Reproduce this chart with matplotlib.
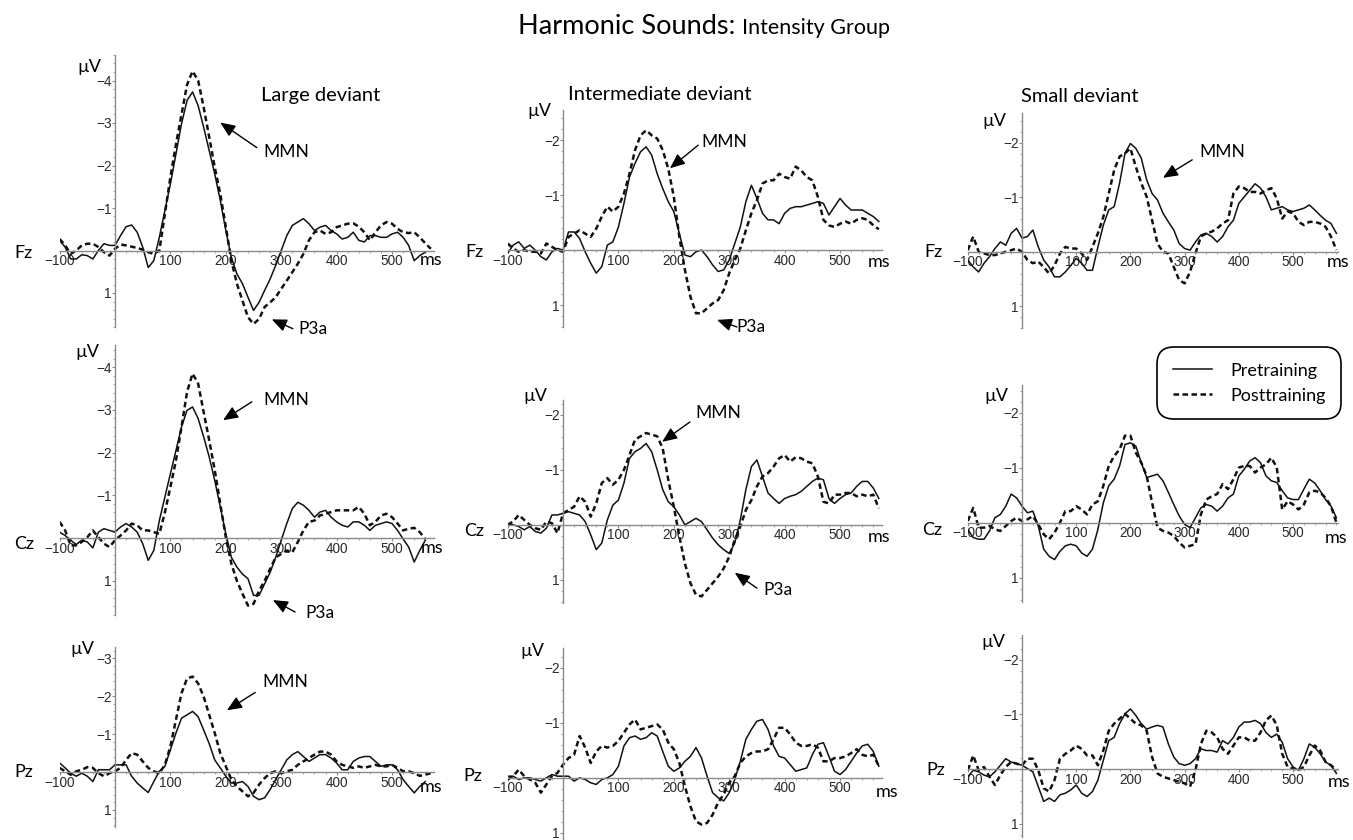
import matplotlib
matplotlib.use("Agg")
import matplotlib.pyplot as plt
from matplotlib.ticker import FixedLocator, MultipleLocator

W, H = 1353, 840
fig = plt.figure(figsize=(W / 100, H / 100), dpi=100)

LABEL_FONT = ["Lato", "DejaVu Sans"]
TICK_FONT = ["Liberation Sans", "DejaVu Sans"]

# time axis (ms), one sample every 10 ms
times = list(range(-100, 590, 10))

# ---- Fz ----
fz_large_pre = [-0.24, -0.08, 0.20, 0.20, 0.10, 0.12, 0.20, 0.00, -0.16, -0.12,
                -0.12, -0.35, -0.56, -0.60, -0.43, -0.08, 0.40, 0.24, -0.31, -0.94,
                -1.57, -2.27, -2.98, -3.53, -3.73, -3.41, -2.90, -2.35, -1.80, -1.18,
                -0.47, 0.16, 0.55, 0.78, 1.10, 1.41, 1.22, 0.94, 0.67, 0.35,
                0.00, -0.35, -0.59, -0.67, -0.75, -0.63, -0.47, -0.55, -0.59, -0.47,
                -0.39, -0.27, -0.31, -0.43, -0.24, -0.20, -0.35, -0.35, -0.31, -0.31,
                -0.39, -0.43, -0.31, -0.12, 0.24, 0.12, 0.04]
fz_large_post = [-0.27, -0.12, 0.08, 0.00, -0.12, -0.16, -0.16, -0.08, 0.04, 0.12,
                 -0.04, -0.14, -0.12, -0.09, -0.06, -0.02, 0.04, 0.08, 0.00, -0.86,
                 -1.73, -2.50, -3.20, -3.90, -4.22, -4.00, -3.37, -2.67, -1.96, -1.33,
                 -0.55, 0.24, 0.78, 1.18, 1.57, 1.73, 1.61, 1.33, 1.22, 1.10,
                 0.90, 0.71, 0.51, 0.31, 0.08, -0.24, -0.43, -0.47, -0.39, -0.43,
                 -0.55, -0.59, -0.63, -0.64, -0.56, -0.43, -0.24, -0.43, -0.59, -0.67,
                 -0.63, -0.51, -0.43, -0.41, -0.43, -0.31, -0.17, -0.04]
fz_mid_pre = [0.06, -0.09, -0.15, -0.03, -0.09, 0.00, 0.12, 0.18, 0.03, -0.03,
              0.00, -0.33, -0.33, -0.21, 0.03, 0.24, 0.42, 0.30, -0.09, -0.15,
              -0.42, -0.85, -1.33, -1.58, -1.79, -1.88, -1.73, -1.39, -1.12, -0.88,
              -0.70, -0.30, 0.09, 0.12, 0.03, 0.00, 0.12, 0.27, 0.39, 0.36,
              0.18, -0.12, -0.42, -0.88, -1.18, -0.94, -0.67, -0.55, -0.55, -0.48,
              -0.67, -0.76, -0.79, -0.79, -0.82, -0.85, -0.88, -0.85, -0.64, -0.79,
              -0.94, -0.82, -0.73, -0.73, -0.73, -0.67, -0.61, -0.52]
fz_mid_post = [-0.12, -0.03, 0.03, 0.00, 0.03, 0.03, 0.06, -0.12, -0.06, 0.00,
               0.03, -0.24, -0.30, -0.36, -0.30, -0.24, -0.39, -0.61, -0.79, -0.70,
               -0.79, -1.03, -1.39, -1.82, -2.09, -2.18, -2.09, -2.03, -1.82, -1.48,
               -0.97, -0.24, 0.36, 0.85, 1.15, 1.15, 1.06, 0.97, 0.91, 0.73,
               0.42, 0.18, -0.03, -0.36, -0.67, -0.91, -1.21, -1.27, -1.27, -1.39,
               -1.33, -1.30, -1.52, -1.45, -1.33, -1.27, -0.97, -0.55, -0.45, -0.42,
               -0.48, -0.52, -0.48, -0.55, -0.58, -0.55, -0.45, -0.38]
fz_small_pre = [0.15, 0.28, 0.37, 0.21, 0.09, -0.06, -0.18, -0.12, -0.34, -0.43,
                -0.25, -0.28, -0.40, -0.09, 0.15, 0.28, 0.46, 0.46, 0.37, 0.25,
                0.12, 0.21, 0.34, 0.34, -0.09, -0.49, -0.77, -0.83, -1.26, -1.81,
                -1.99, -1.90, -1.72, -1.32, -1.07, -0.95, -0.71, -0.55, -0.40, -0.15,
                -0.06, -0.03, -0.18, -0.31, -0.34, -0.28, -0.18, -0.28, -0.46, -0.58,
                -0.89, -1.01, -1.13, -1.25, -1.17, -1.01, -0.77, -0.80, -0.83, -0.77,
                -0.74, -0.77, -0.80, -0.86, -0.77, -0.67, -0.58, -0.52, -0.34]
fz_small_post = [-0.03, -0.28, 0.00, 0.03, 0.06, 0.06, 0.03, 0.00, -0.03, -0.06,
                 0.00, 0.15, 0.21, 0.18, 0.28, 0.40, 0.25, 0.03, -0.09, -0.06,
                 -0.06, 0.03, 0.15, -0.09, -0.34, -0.64, -1.07, -1.50, -1.75, -1.81,
                 -1.90, -1.56, -1.26, -1.01, -0.58, -0.15, 0.00, 0.03, 0.28, 0.52,
                 0.58, 0.37, 0.03, -0.28, -0.34, -0.37, -0.43, -0.52, -0.58, -1.07,
                 -1.20, -1.17, -1.10, -1.10, -1.07, -1.13, -1.17, -0.98, -0.61, -0.74,
                 -0.71, -0.55, -0.49, -0.55, -0.55, -0.52, -0.46, -0.28, -0.03]

# ---- Cz ----
cz_large_pre = [-0.14, -0.06, 0.05, 0.15, 0.05, 0.09, 0.23, -0.14, -0.22, -0.18,
                -0.14, -0.26, -0.34, -0.26, -0.14, 0.13, 0.52, 0.29, -0.41, -0.96,
                -1.51, -2.05, -2.60, -2.99, -3.07, -2.80, -2.37, -1.90, -1.35, -0.73,
                -0.10, 0.45, 0.68, 0.84, 0.95, 1.34, 1.34, 1.07, 0.80, 0.45,
                0.05, -0.34, -0.69, -0.84, -0.77, -0.65, -0.49, -0.61, -0.65, -0.49,
                -0.38, -0.30, -0.26, -0.38, -0.38, -0.30, -0.18, -0.30, -0.34, -0.38,
                -0.34, -0.18, 0.02, 0.21, 0.56, 0.29, 0.05]
cz_large_post = [-0.38, -0.18, 0.17, 0.17, 0.09, -0.02, -0.18, -0.02, 0.13, 0.21,
                 0.05, -0.06, -0.18, -0.34, -0.30, -0.18, -0.18, -0.14, -0.10, -0.60,
                 -1.20, -1.82, -2.60, -3.42, -3.85, -3.62, -2.95, -2.29, -1.59, -0.80,
                 -0.02, 0.60, 1.00, 1.30, 1.58, 1.54, 1.23, 1.00, 0.72, 0.45,
                 0.37, 0.29, 0.33, 0.09, -0.18, -0.38, -0.41, -0.53, -0.57, -0.61,
                 -0.65, -0.65, -0.65, -0.65, -0.73, -0.57, -0.30, -0.38, -0.53, -0.57,
                 -0.49, -0.34, -0.18, -0.22, -0.24, -0.14, 0.02]
cz_mid_pre = [0.00, 0.00, 0.03, 0.09, 0.03, 0.12, 0.15, 0.06, -0.18, -0.18,
              -0.21, -0.24, -0.21, -0.18, -0.06, 0.18, 0.45, 0.33, -0.09, -0.36,
              -0.45, -0.76, -1.21, -1.33, -1.39, -1.48, -1.33, -1.00, -0.64, -0.42,
              -0.33, -0.18, 0.00, -0.06, -0.12, -0.06, 0.09, 0.24, 0.36, 0.45,
              0.52, 0.33, -0.09, -0.64, -1.06, -1.18, -0.88, -0.58, -0.48, -0.39,
              -0.48, -0.52, -0.55, -0.61, -0.70, -0.79, -0.85, -0.82, -0.48, -0.39,
              -0.48, -0.55, -0.58, -0.70, -0.79, -0.79, -0.67, -0.48]
cz_mid_post = [0.00, -0.06, -0.18, -0.09, 0.00, 0.06, 0.09, -0.06, -0.03, 0.15,
               -0.21, -0.27, -0.33, -0.52, -0.42, -0.15, -0.39, -0.76, -0.85, -0.73,
               -0.82, -1.00, -1.27, -1.55, -1.61, -1.67, -1.64, -1.61, -1.39, -0.82,
               -0.33, 0.21, 0.70, 1.06, 1.27, 1.30, 1.18, 1.06, 0.94, 0.79,
               0.58, 0.27, 0.03, -0.27, -0.45, -0.70, -0.88, -0.94, -1.06, -1.21,
               -1.27, -1.15, -1.23, -1.21, -1.15, -1.12, -0.88, -0.42, -0.39, -0.55,
               -0.55, -0.58, -0.58, -0.52, -0.55, -0.52, -0.55, -0.30]
cz_small_pre = [0.12, 0.27, 0.30, 0.30, 0.15, -0.09, -0.15, -0.30, -0.52, -0.45,
                -0.30, -0.18, -0.21, 0.06, 0.48, 0.61, 0.67, 0.52, 0.42, 0.39,
                0.42, 0.55, 0.61, 0.48, 0.12, -0.36, -0.67, -0.79, -1.03, -1.42,
                -1.45, -1.39, -1.09, -0.82, -0.85, -0.88, -0.76, -0.55, -0.33, -0.12,
                0.03, 0.09, -0.09, -0.27, -0.33, -0.30, -0.21, -0.30, -0.45, -0.52,
                -0.85, -0.97, -1.12, -1.18, -1.09, -0.85, -0.76, -0.73, -0.58, -0.45,
                -0.42, -0.42, -0.61, -0.79, -0.72, -0.58, -0.42, -0.30, -0.09]
cz_small_post = [-0.03, -0.27, 0.09, 0.09, 0.06, 0.12, 0.15, 0.06, -0.03, -0.09,
                 -0.03, -0.06, -0.12, 0.03, 0.21, 0.30, 0.18, 0.00, -0.21, -0.21,
                 -0.30, -0.24, -0.15, -0.33, -0.39, -0.67, -1.03, -1.21, -1.33, -1.58,
                 -1.58, -1.27, -1.09, -0.85, -0.36, 0.09, 0.15, 0.18, 0.24, 0.36,
                 0.45, 0.42, 0.39, -0.15, -0.42, -0.48, -0.52, -0.70, -0.61, -0.79,
                 -1.00, -1.03, -1.03, -0.91, -1.00, -1.06, -1.18, -1.00, -0.24, -0.39,
                 -0.33, -0.24, -0.33, -0.55, -0.58, -0.55, -0.45, -0.30, 0.00]

# ---- Pz ----
pz_large_pre = [-0.24, -0.11, 0.03, 0.11, 0.03, 0.11, 0.25, -0.06, -0.06, -0.06,
                -0.19, -0.19, -0.19, 0.11, 0.29, 0.42, 0.54, 0.25, -0.02, -0.15,
                -0.59, -1.03, -1.42, -1.51, -1.60, -1.46, -1.11, -0.75, -0.32, -0.11,
                0.11, 0.29, 0.29, 0.25, 0.38, 0.64, 0.73, 0.68, 0.46, 0.20,
                -0.06, -0.32, -0.46, -0.54, -0.41, -0.28, -0.37, -0.46, -0.46, -0.37,
                -0.24, -0.06, -0.06, -0.28, -0.37, -0.41, -0.41, -0.28, -0.15, -0.19,
                -0.19, -0.06, 0.20, 0.38, 0.55, 0.38, 0.25]
pz_large_post = [-0.11, -0.02, 0.07, -0.02, -0.06, -0.13, -0.11, 0.03, 0.11, 0.03,
                 -0.02, -0.11, -0.32, -0.50, -0.46, -0.28, -0.11, -0.02, 0.03, -0.19,
                 -0.68, -1.38, -2.08, -2.47, -2.52, -2.34, -1.99, -1.51, -1.03, -0.50,
                 -0.15, 0.20, 0.38, 0.51, 0.64, 0.55, 0.33, 0.16, 0.03, -0.02,
                 0.03, -0.02, -0.06, -0.19, -0.28, -0.37, -0.46, -0.54, -0.54, -0.46,
                 -0.28, -0.19, -0.15, -0.11, -0.15, -0.11, -0.15, -0.19, -0.15, -0.15,
                 -0.19, -0.11, -0.02, -0.02, 0.03, 0.10, 0.07, 0.03]
pz_mid_pre = [-0.03, -0.03, 0.03, 0.00, 0.00, 0.03, 0.06, 0.00, -0.06, -0.03,
              -0.03, -0.03, 0.06, 0.00, 0.03, 0.09, 0.12, 0.03, 0.00, -0.06,
              -0.21, -0.58, -0.73, -0.76, -0.70, -0.73, -0.82, -0.76, -0.48, -0.21,
              -0.12, -0.18, -0.30, -0.39, -0.55, -0.36, -0.03, 0.27, 0.36, 0.42,
              0.27, 0.03, -0.30, -0.70, -0.88, -1.03, -1.06, -0.88, -0.58, -0.39,
              -0.36, -0.24, -0.12, -0.15, -0.18, -0.42, -0.61, -0.64, -0.39, -0.12,
              -0.06, -0.15, -0.30, -0.45, -0.58, -0.61, -0.48, -0.21]
pz_mid_post = [0.03, -0.03, -0.15, -0.03, 0.03, 0.09, 0.27, 0.12, -0.03, -0.09,
               -0.24, -0.36, -0.42, -0.76, -0.55, -0.27, -0.48, -0.58, -0.55, -0.58,
               -0.67, -0.82, -0.97, -1.06, -0.88, -0.91, -0.94, -0.97, -0.88, -0.64,
               -0.52, -0.27, 0.15, 0.52, 0.79, 0.85, 0.82, 0.67, 0.45, 0.30,
               0.09, -0.03, -0.27, -0.39, -0.45, -0.48, -0.48, -0.52, -0.70, -0.91,
               -0.91, -0.79, -0.64, -0.58, -0.58, -0.61, -0.55, -0.30, -0.30, -0.36,
               -0.36, -0.39, -0.45, -0.52, -0.42, -0.39, -0.42, -0.21]
pz_small_pre = [0.14, 0.02, 0.05, 0.11, 0.14, 0.05, -0.07, -0.19, -0.13, -0.10,
                -0.07, -0.01, 0.05, 0.32, 0.59, 0.53, 0.59, 0.47, 0.44, 0.38,
                0.29, 0.44, 0.50, 0.41, 0.20, -0.16, -0.52, -0.58, -0.83, -1.01,
                -1.10, -0.98, -0.83, -0.73, -0.77, -0.80, -0.77, -0.46, -0.22, -0.10,
                -0.07, -0.10, -0.19, -0.37, -0.34, -0.34, -0.31, -0.52, -0.46, -0.58,
                -0.77, -0.86, -0.86, -0.89, -0.83, -0.67, -0.58, -0.64, -0.49, -0.19,
                -0.04, 0.02, -0.19, -0.46, -0.40, -0.28, -0.13, -0.07, 0.08]
pz_small_post = [0.02, -0.25, 0.02, -0.04, 0.14, 0.29, 0.11, -0.04, -0.13, -0.10,
                 -0.07, -0.19, -0.19, 0.02, 0.35, 0.41, 0.20, -0.19, -0.28, -0.34,
                 -0.43, -0.37, -0.25, -0.25, -0.07, -0.34, -0.70, -0.83, -0.92, -1.01,
                 -0.92, -0.83, -0.80, -0.70, -0.22, 0.08, 0.14, 0.17, 0.20, 0.23,
                 0.26, 0.32, 0.02, -0.46, -0.70, -0.67, -0.58, -0.37, -0.28, -0.43,
                 -0.58, -0.58, -0.52, -0.52, -0.67, -0.89, -0.98, -0.80, -0.28, -0.04,
                 -0.01, 0.02, -0.04, -0.25, -0.43, -0.34, -0.13, -0.07, 0.02]

conditions = ["Large deviant", "Intermediate deviant", "Small deviant"]
electrodes = ["Fz", "Cz", "Pz"]
series = [
    [(fz_large_pre, fz_large_post), (fz_mid_pre, fz_mid_post), (fz_small_pre, fz_small_post)],
    [(cz_large_pre, cz_large_post), (cz_mid_pre, cz_mid_post), (cz_small_pre, cz_small_post)],
    [(pz_large_pre, pz_large_post), (pz_mid_pre, pz_mid_post), (pz_small_pre, pz_small_post)],
]
x_ticks = [-100, 100, 200, 300, 400, 500]

# ---- layout (pixel boxes of each panel, y limits, tick values) ----
col_box = [(59.6, 433.6, 575), (507.6, 881.6, 575), (967.8, 1337.5, 582)]
row_box = [
    [(55, 327, -4.6, 1.8), (110, 327, -2.55, 1.4), (113, 328, -2.55, 1.4)],
    [(345, 615, -4.52, 1.8), (400, 603, -2.27, 1.42), (385, 602, -2.5, 1.44)],
    [(647, 827, -3.3, 1.45), (648, 840, -2.36, 1.13), (635, 837, -2.45, 1.24)],
]
y_ticks = [
    [[-4, -3, -2, -1, 1], [-2, -1, 1], [-2, -1, 1]],
    [[-4, -3, -2, -1, 1], [-2, -1, 1], [-2, -1, 1]],
    [[-3, -2, -1, 1], [-2, -1, 1], [-2, -1, 1]],
]
uv_pos = [[(89, 67), (539, 111), (994, 121)],
          [(87, 352), (535, 396), (996, 396)],
          [(82, 649), (532, 651), (993, 642)]]
elec_pos = [[(23, 253), (474, 252), (933, 252)],
            [(24, 544), (474, 531), (932, 530)],
            [(24, 772), (473, 776), (936, 770)]]
ms_pos = [[(431, 260), (879, 262), (1338, 262)],
          [(432, 548), (879, 537), (1336, 538)],
          [(431, 787), (887, 792), (1339, 782)]]

# annotations: (label, text xy, arrow start, arrow tip) in data units
notes = {
    (0, 0): [("MMN", (310, -2.31), (256, -2.42), (190, -3.01)),
             ("P3a", (358, 1.84), (321, 1.84), (283, 1.62))],
    (0, 1): [("MMN", (292, -1.96), (244, -1.91), (193, -1.49)),
             ("P3a", (340, 1.40), (314, 1.40), (278, 1.27))],
    (0, 2): [("MMN", (369, -1.83), (314, -1.69), (260, -1.36))],
    (1, 0): [("MMN", (310, -3.23), (247, -3.19), (195, -2.76)),
             ("P3a", (370, 1.76), (325, 1.73), (285, 1.45))],
    (1, 1): [("MMN", (280, -2.04), (229, -1.87), (179, -1.51)),
             ("P3a", (388, 1.18), (350, 1.15), (310, 0.87))],
    (2, 0): [("MMN", (307, -2.37), (253, -2.10), (202, -1.63))],
}

handles = None
for r in range(3):
    for c in range(3):
        left, right, xmax = col_box[c]
        top, bottom, ytop, ybot = row_box[r][c]
        ax = fig.add_axes([left / W, 1 - bottom / H, (right - left) / W, (bottom - top) / H])
        ax.patch.set_alpha(0)
        pre, post = series[r][c]
        l1, = ax.plot(times[:len(pre)], pre, color="#111111", lw=1.1, label="Pretraining")
        l2, = ax.plot(times[:len(post)], post, color="#111111", lw=1.8,
                      linestyle=(0, (2.2, 1.4)), label="Posttraining")
        if handles is None:
            handles = [l1, l2]
        ax.set_xlim(-100, xmax)
        ax.set_ylim(ybot, ytop)

        for s in ["top", "right"]:
            ax.spines[s].set_visible(False)
        ax.spines["left"].set_position(("data", 0))
        ax.spines["bottom"].set_position(("data", 0))
        ax.spines["left"].set_color("#8a8a8a")
        ax.spines["bottom"].set_color("#8a8a8a")
        ax.spines["left"].set_linewidth(1.0)
        ax.spines["bottom"].set_linewidth(1.0)

        ax.xaxis.set_major_locator(FixedLocator(x_ticks))
        ax.xaxis.set_minor_locator(MultipleLocator(20))
        ax.yaxis.set_major_locator(FixedLocator(y_ticks[r][c]))
        ax.yaxis.set_minor_locator(MultipleLocator(0.2))
        ax.set_xticklabels([str(v) if v > 0 else "\u2212" + str(-v) for v in x_ticks])
        ax.set_yticklabels([str(v) if v > 0 else "\u2212" + str(-v) for v in y_ticks[r][c]])
        ax.tick_params(which="major", length=2, width=0.8, color="#8a8a8a",
                       labelsize=9.8, labelcolor="#2a2a2a", pad=0.5)
        ax.tick_params(which="minor", length=1.2, width=0.6, color="#9a9a9a")
        for lab in ax.get_xticklabels() + ax.get_yticklabels():
            lab.set_fontfamily(TICK_FONT)

        for text, txy, a0, a1 in notes.get((r, c), []):
            ax.annotate("", xy=a1, xytext=a0, annotation_clip=False,
                        arrowprops=dict(arrowstyle="-|>,head_length=0.75,head_width=0.32",
                                        color="black", lw=1.0, mutation_scale=12,
                                        shrinkA=0, shrinkB=0))
            ax.text(txy[0], txy[1], text, ha="center", va="center", fontsize=12.5,
                    family=LABEL_FONT, clip_on=False)

        x, y = uv_pos[r][c]
        fig.text(x / W, 1 - y / H, "\u00b5V", ha="center", va="center", fontsize=13,
                 family=LABEL_FONT)
        x, y = elec_pos[r][c]
        fig.text(x / W, 1 - y / H, electrodes[r], ha="center", va="center", fontsize=13,
                 family=LABEL_FONT)
        x, y = ms_pos[r][c]
        fig.text(x / W, 1 - y / H, "ms", ha="center", va="center", fontsize=13,
                 family=LABEL_FONT)

title_pos = [(321, 95), (660, 95), (1080, 97)]
for (x, y), name in zip(title_pos, conditions):
    fig.text(x / W, 1 - y / H, name, ha="center", va="center", fontsize=14.5,
             family=LABEL_FONT)

fig.text(735 / W, 1 - 34 / H, "Harmonic Sounds:", ha="right", va="baseline",
         fontsize=19.5, family=LABEL_FONT)
fig.text(742 / W, 1 - 34 / H, "Intensity Group", ha="left", va="baseline",
         fontsize=15.5, family=LABEL_FONT)

leg = fig.legend(handles, ["Pretraining", "Posttraining"], loc="upper left",
                 bbox_to_anchor=(1161 / W, 1 - 351 / H), borderaxespad=0,
                 prop={"family": LABEL_FONT, "size": 13}, handlelength=2.2,
                 handletextpad=1.0, labelspacing=0.5, borderpad=0.65,
                 frameon=True, fancybox=True, edgecolor="black", framealpha=1)
leg.get_frame().set_linewidth(1.2)
leg.get_frame().set_boxstyle("round,pad=0.2,rounding_size=0.9")

fig.savefig("out.png", dpi=100)
